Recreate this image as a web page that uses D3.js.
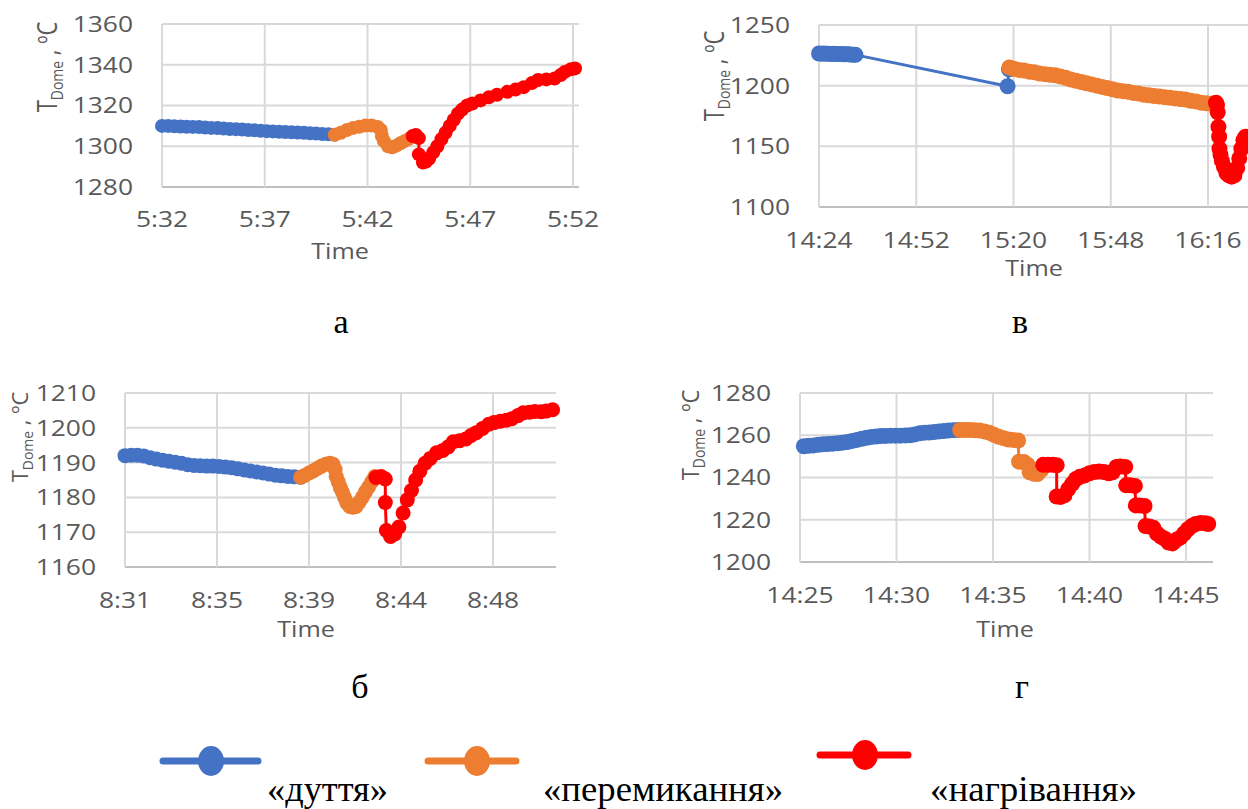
<!DOCTYPE html>
<html>
<head>
<meta charset="utf-8">
<script src="https://cdn.jsdelivr.net/npm/d3@7"></script>
<style>
  body { margin: 0; background: #fff; }
  svg { display: block; }
</style>
</head>
<body>
<div id="chart"></div>
<script>
// times are minutes after the first tick of each panel
const aTicks = [0, 5, 10, 15, 20];
const aTickLabels = ["5:32", "5:37", "5:42", "5:47", "5:52"];
const aYTicks = [1280, 1300, 1320, 1340, 1360];
const aBlow = [[0,1310],[0.3,1310],[0.6,1309.8],[0.9,1309.7],[1.2,1309.6],[1.5,1309.5],[1.8,1309.4],[2.1,1309.2],[2.4,1309],[2.7,1308.9],[3,1308.7],[3.3,1308.5],[3.6,1308.4],[3.9,1308.2],[4.2,1308],[4.5,1307.8],[4.8,1307.6],[5.1,1307.4],[5.4,1307.3],[5.7,1307.1],[6,1307],[6.3,1306.9],[6.6,1306.7],[6.9,1306.6],[7.2,1306.4],[7.5,1306.2],[7.8,1306],[8.1,1305.9],[8.4,1305.7]];
const aSwitch = [[8.4,1305.6],[8.7,1306.6],[9,1308],[9.3,1309],[9.6,1309.6],[9.9,1310.2],[10.2,1310.2],[10.5,1309.5],[10.65,1308],[10.7,1305],[10.8,1302.5],[11,1300],[11.2,1299.5],[11.4,1300.3],[11.6,1301.5],[11.8,1302.5],[12,1303.5],[12.2,1304.5]];
const aHeat = [[12.2,1305],[12.35,1305.5],[12.5,1304],[12.5,1296],[12.7,1292],[12.85,1292.5],[13,1294],[13.2,1297],[13.4,1300],[13.6,1303.5],[13.8,1306.7],[14,1310],[14.2,1313],[14.4,1316],[14.6,1318],[14.85,1320],[15.1,1321],[15.5,1322.5],[15.9,1324],[16.3,1325.3],[16.8,1326.7],[17.2,1327.8],[17.6,1329],[18,1331],[18.3,1332.5],[18.7,1332.8],[19.1,1333.2],[19.4,1335],[19.6,1336.5],[19.9,1337.8],[20.1,1338.2]];

const vTicks = [0, 28, 56, 84, 112];
const vTickLabels = ["14:24", "14:52", "15:20", "15:48", "16:16"];
const vYTicks = [1100, 1150, 1200, 1250];
const vBlow = [[0,1226.5],[0.7,1226.4],[1.4,1226.5],[2.1,1226.3],[2.8,1226.4],[3.5,1226.2],[4.2,1226.3],[4.9,1226],[5.6,1226.1],[6.3,1226],[7,1225.9],[7.7,1225.8],[8.4,1225.8],[9.1,1225.6],[9.8,1225.5],[10.5,1225.4],[54.3,1199.5],[54.7,1213.5]];
const vSwitch = [[54.8,1215],[56,1214],[57.5,1213],[59,1212.5],[60.5,1211.5],[62,1211],[63.5,1210],[65,1209.5],[66.5,1209],[68,1208.5],[69.5,1207.5],[71,1206.5],[72.5,1205],[74,1204],[75.5,1203],[77,1202],[78.5,1201],[80,1200],[81.5,1199],[83,1198],[84.5,1197],[86,1196],[87.5,1195.5],[89,1195],[90.5,1194],[92,1193.5],[93.5,1192.5],[95,1192],[96.5,1191.5],[98,1191],[99.5,1190.5],[101,1190],[102.5,1189.5],[104,1189],[105.5,1188.5],[107,1187.5],[108.5,1187],[110,1186],[111.5,1185.5],[113,1185]];
const vHeat = [[114.3,1186],[114.6,1184],[114.8,1178],[115,1166],[115.2,1158],[115.3,1148],[115.6,1143],[116,1138],[116.6,1133],[117.3,1128],[118,1126],[118.8,1125],[119.6,1126],[120.4,1132],[121,1140],[121.6,1148],[122.2,1155],[122.8,1158]];

const bTicks = [0, 4.4, 8.8, 13.2, 17.6];
const bTickLabels = ["8:31", "8:35", "8:39", "8:44", "8:48"];
const bYTicks = [1160, 1170, 1180, 1190, 1200, 1210];
const bBlow = [[0,1192],[0.3,1192.1],[0.6,1192.1],[0.9,1191.9],[1.2,1191.4],[1.5,1191],[1.8,1190.7],[2.1,1190.4],[2.4,1190.1],[2.7,1189.8],[3,1189.4],[3.3,1189.2],[3.6,1189.1],[3.9,1189],[4.2,1189],[4.5,1188.9],[4.8,1188.7],[5.1,1188.5],[5.4,1188.2],[5.7,1187.9],[6,1187.6],[6.3,1187.3],[6.6,1187],[6.9,1186.7],[7.2,1186.4],[7.5,1186.2],[7.8,1186],[8.1,1185.9],[8.4,1185.8]];
const bSwitch = [[8.4,1185.8],[8.6,1186.3],[8.8,1187],[9.0,1187.6],[9.2,1188.3],[9.4,1189],[9.6,1189.5],[9.8,1189.8],[9.95,1189.5],[10.05,1188],[10.1,1186],[10.2,1184.5],[10.3,1182.8],[10.4,1181.5],[10.5,1180],[10.6,1178.5],[10.75,1177.4],[10.9,1177.2],[11.05,1177.4],[11.2,1178.6],[11.35,1180],[11.5,1181.6],[11.65,1183],[11.8,1184.5],[11.95,1186]];
const bHeat = [[12.0,1185.7],[12.25,1186],[12.45,1185.3],[12.45,1178.5],[12.5,1170.5],[12.7,1168.8],[12.9,1169.5],[13.1,1171.5],[13.3,1175.5],[13.5,1179.3],[13.7,1182],[13.9,1185],[14.1,1187.5],[14.35,1189.8],[14.6,1191.2],[14.9,1192.8],[15.2,1193.5],[15.45,1194.5],[15.7,1196],[16.0,1196.3],[16.3,1196.8],[16.55,1197.8],[16.8,1198.6],[17.1,1199.8],[17.4,1201],[17.65,1201.5],[17.95,1201.9],[18.25,1202.2],[18.5,1202.6],[18.8,1203.5],[19.05,1204.3],[19.35,1204.5],[19.6,1204.7],[19.9,1204.6],[20.15,1204.8],[20.45,1205.2]];

const gTicks = [0, 5, 10, 15, 20];
const gTickLabels = ["14:25", "14:30", "14:35", "14:40", "14:45"];
const gYTicks = [1200, 1220, 1240, 1260, 1280];
const gBlow = [[0.2,1254.8],[0.45,1255],[0.7,1255.2],[0.95,1255.5],[1.2,1255.7],[1.45,1255.8],[1.7,1256],[1.95,1256.2],[2.2,1256.5],[2.45,1256.8],[2.7,1257.3],[2.95,1257.8],[3.2,1258.3],[3.45,1258.8],[3.7,1259.2],[3.95,1259.4],[4.2,1259.6],[4.45,1259.7],[4.7,1259.8],[4.95,1259.8],[5.2,1259.8],[5.45,1259.9],[5.7,1260],[5.95,1260.4],[6.2,1260.9],[6.45,1261.2],[6.7,1261.3],[6.95,1261.5],[7.2,1261.8],[7.45,1262],[7.7,1262.2],[7.95,1262.4],[8.2,1262.5]];
const gSwitch = [[8.3,1262.5],[8.55,1262.5],[8.8,1262.5],[9.05,1262.4],[9.3,1262.2],[9.55,1261.8],[9.8,1261.2],[10.05,1260.2],[10.3,1259.3],[10.55,1258.6],[10.8,1258],[11.05,1257.8],[11.3,1257.5],[11.35,1247.5],[11.6,1247.3],[11.8,1246],[11.9,1242.5],[12.1,1241.8],[12.3,1241.6],[12.5,1243.5]];
const gHeat = [[12.6,1246],[12.85,1246],[13.1,1246],[13.3,1245.8],[13.3,1231],[13.5,1230.8],[13.7,1231.5],[13.9,1234.5],[14.1,1237],[14.3,1239.3],[14.5,1240.3],[14.75,1241],[15,1242],[15.25,1242.6],[15.5,1242.8],[15.75,1242.6],[16,1242],[16.2,1242.5],[16.4,1245],[16.6,1245.2],[16.85,1245],[16.9,1236.3],[17.1,1236.3],[17.35,1236],[17.4,1226.8],[17.6,1226.8],[17.85,1226.5],[17.9,1217],[18.1,1216.8],[18.3,1216.2],[18.5,1213.5],[18.7,1212],[18.9,1211],[19.1,1209.2],[19.3,1208.8],[19.5,1210.5],[19.7,1211.5],[19.9,1213.5],[20.1,1215.5],[20.3,1217],[20.5,1218],[20.75,1218.5],[21,1218.3],[21.15,1218]];

const legendLabels = ["«дуття»", "«перемикання»", "«нагрівання»"];
const seriesColors = ["#4472C4", "#ED7D31", "#FF0000"];

const width = 1248, height = 809;
const svg = d3.select("#chart").append("svg")
  .attr("width", width).attr("height", height)
  .attr("viewBox", `0 0 ${width} ${height}`);

const axisFont = "'Open Sans', 'Noto Sans', sans-serif";
const textGray = "#595959";
const stretch = 1.2;

const panels = [
  { ticks: aTicks, labels: aTickLabels, yTicks: aYTicks, series: [aBlow, aSwitch, aHeat],
    x0: 162, x1: 573, right: 579, top: 24, bottom: 187, r: 7,
    labelY: 227, timeX: 340, timeY: 259, titleX: 57, titleY: 67, titleScale: 1.2,
    caption: "а", capX: 341, capY: 333 },
  { ticks: vTicks, labels: vTickLabels, yTicks: vYTicks, series: [vBlow, vSwitch, vHeat],
    x0: 819, x1: 1208, right: 1260, top: 25, bottom: 207, r: 8,
    labelY: 248, timeX: 1034, timeY: 276, titleX: 724, titleY: 76, titleScale: 1.2,
    caption: "в", capX: 1020, capY: 333 },
  { ticks: bTicks, labels: bTickLabels, yTicks: bYTicks, series: [bBlow, bSwitch, bHeat],
    x0: 125, x1: 493, right: 556, top: 393, bottom: 567, r: 7.5,
    labelY: 608, timeX: 306, timeY: 637, titleX: 28, titleY: 437, titleScale: 1.0,
    caption: "б", capX: 360, capY: 698 },
  { ticks: gTicks, labels: gTickLabels, yTicks: gYTicks, series: [gBlow, gSwitch, gHeat],
    x0: 800, x1: 1186, right: 1213, top: 393, bottom: 562, r: 8,
    labelY: 603, timeX: 1005, timeY: 637, titleX: 699, titleY: 435, titleScale: 1.1,
    caption: "г", capX: 1022, capY: 698 }
];

function drawPanel(p) {
  const x = d3.scaleLinear().domain([p.ticks[0], p.ticks[p.ticks.length - 1]]).range([p.x0, p.x1]);
  const y = d3.scaleLinear().domain(d3.extent(p.yTicks)).range([p.bottom, p.top]);
  const g = svg.append("g");

  // horizontal grid
  g.selectAll(".hgrid").data(p.yTicks).enter().append("line")
    .attr("x1", p.x0).attr("x2", p.right)
    .attr("y1", d => y(d)).attr("y2", d => y(d))
    .attr("stroke", (d, i) => i === 0 ? "#BFBFBF" : "#D9D9D9")
    .attr("stroke-width", 2);
  // vertical grid
  g.selectAll(".vgrid").data(p.ticks).enter().append("line")
    .attr("x1", d => x(d)).attr("x2", d => x(d))
    .attr("y1", p.top).attr("y2", p.bottom)
    .attr("stroke", "#D9D9D9").attr("stroke-width", 2);

  // y tick labels
  g.selectAll(".ylab").data(p.yTicks).enter().append("text")
    .attr("transform", d => `translate(${p.x0 - 29},${y(d)}) scale(${stretch},1)`)
    .attr("text-anchor", "end").attr("dy", "0.36em")
    .attr("font-family", axisFont).attr("font-size", 22).attr("fill", textGray)
    .text(d => d);
  // x tick labels
  g.selectAll(".xlab").data(p.ticks).enter().append("text")
    .attr("transform", d => `translate(${x(d)},${p.labelY}) scale(${stretch},1)`)
    .attr("text-anchor", "middle")
    .attr("font-family", axisFont).attr("font-size", 22).attr("fill", textGray)
    .text((d, i) => p.labels[i]);

  g.append("text")
    .attr("transform", `translate(${p.timeX},${p.timeY}) scale(${stretch},1)`)
    .attr("text-anchor", "middle")
    .attr("font-family", axisFont).attr("font-size", 21).attr("fill", textGray)
    .text("Time");

  const title = g.append("text")
    .attr("transform", `translate(${p.titleX},${p.titleY}) rotate(-90) scale(1,${p.titleScale})`)
    .attr("text-anchor", "middle")
    .attr("font-family", axisFont).attr("font-size", 22).attr("fill", textGray);
  title.append("tspan").text("T");
  title.append("tspan").attr("font-size", 14).attr("dy", 5).text("Dome");
  title.append("tspan").attr("dy", -5).text(" , ºC");

  const line = d3.line().x(d => x(d[0])).y(d => y(d[1]));
  p.series.forEach((s, i) => {
    g.append("path").datum(s)
      .attr("d", line).attr("fill", "none")
      .attr("stroke", seriesColors[i]).attr("stroke-width", 3)
      .attr("stroke-linejoin", "round");
    g.selectAll(null).data(s).enter().append("circle")
      .attr("cx", d => x(d[0])).attr("cy", d => y(d[1]))
      .attr("r", p.r).attr("fill", seriesColors[i]);
  });

  svg.append("text")
    .attr("x", p.capX).attr("y", p.capY)
    .attr("text-anchor", "middle")
    .attr("font-family", "'Liberation Serif', 'Times New Roman', serif")
    .attr("font-size", 34).attr("fill", "#000")
    .text(p.caption);
}

panels.forEach(drawPanel);

// legend
const legendItems = [
  { x1: 163, x2: 258, cx: 211, cy: 761, tx: 267, tw: 121 },
  { x1: 428, x2: 516, cx: 477, cy: 761, tx: 543, tw: 240 },
  { x1: 820, x2: 908, cx: 865, cy: 755, tx: 930, tw: 207 }
];
const legend = svg.append("g");
legendItems.forEach((it, i) => {
  legend.append("line")
    .attr("x1", it.x1).attr("x2", it.x2).attr("y1", it.cy).attr("y2", it.cy)
    .attr("stroke", seriesColors[i]).attr("stroke-width", 7).attr("stroke-linecap", "round");
  legend.append("ellipse")
    .attr("cx", it.cx).attr("cy", it.cy).attr("rx", 13).attr("ry", 15)
    .attr("fill", seriesColors[i]);
  legend.append("text")
    .attr("x", it.tx).attr("y", 801)
    .attr("textLength", it.tw).attr("lengthAdjust", "spacingAndGlyphs")
    .attr("font-family", "'Liberation Serif', 'Times New Roman', serif")
    .attr("font-size", 36).attr("fill", "#000")
    .text(legendLabels[i]);
});
</script>
</body>
</html>
